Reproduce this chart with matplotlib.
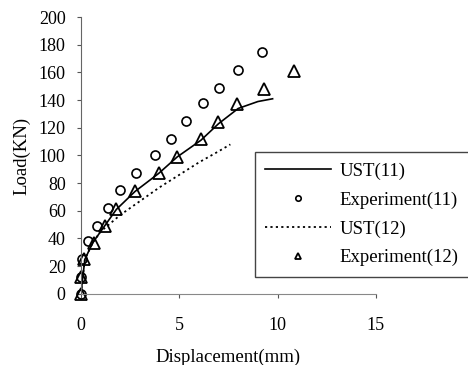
import matplotlib
matplotlib.use("Agg")
import matplotlib.pyplot as plt

plt.rcParams['font.family'] = ['Liberation Serif', 'DejaVu Serif']

# UST(11) calculated curve
ust11_x = [0, 0.1, 0.2, 0.6, 1.2, 1.8, 2.75, 3.95, 4.9, 6.1, 7.0, 8.0, 9.0, 9.75]
ust11_y = [0, 13, 25, 37, 49, 61, 74, 87, 99, 111, 123, 134, 139, 141]

# Experiment(11)
exp11_x = [0, 0, 0.05, 0.35, 0.8, 1.4, 2.0, 2.8, 3.75, 4.6, 5.35, 6.2, 7.0, 8.0, 9.2]
exp11_y = [0, 12, 25, 38, 49, 62, 75, 87, 100, 112, 125, 138, 149, 162, 175]

# UST(12) calculated curve
ust12_x = [0, 0.1, 0.2, 0.6, 1.0, 2.0, 3.0, 4.0, 5.0, 6.0, 7.0, 7.6]
ust12_y = [0, 13, 25, 37, 45, 57, 67, 77, 86, 95, 103, 108]

# Experiment(12)
exp12_x = [0, 0, 0.15, 0.65, 1.2, 1.8, 2.75, 3.95, 4.9, 6.1, 6.95, 7.95, 9.3, 10.85]
exp12_y = [0, 12, 25, 37, 49, 61, 74, 87, 99, 112, 124, 137, 148, 161]

fig = plt.figure(figsize=(4.68, 3.65), dpi=100)
ax = fig.add_axes([0.173, 0.195, 0.63, 0.758])

ax.plot(ust11_x, ust11_y, color='black', lw=1.2, label='UST(11)')
ax.plot(exp11_x, exp11_y, 'o', mfc='none', mec='black', ms=6.5, mew=1.2,
        clip_on=False, label='Experiment(11)')
ax.plot(ust12_x, ust12_y, color='black', lw=1.3, ls=(0, (1.2, 1.8)), label='UST(12)')
ax.plot(exp12_x, exp12_y, '^', mfc='none', mec='black', ms=8, mew=1.3,
        clip_on=False, label='Experiment(12)')

ax.set_xlim(0, 15)
ax.set_ylim(0, 200)
ax.set_xticks([0, 5, 10, 15])
ax.set_yticks(range(0, 201, 20))
for s in ['top', 'right']:
    ax.spines[s].set_visible(False)
ax.spines['left'].set_color('#666666')
ax.spines['bottom'].set_color('#888888')
ax.tick_params(direction='out', length=3, width=0.8, colors='#555555',
               labelcolor='black', labelsize=13)
ax.tick_params(axis='x', pad=14)
ax.tick_params(axis='y', pad=8)

ax.set_xlabel('Displacement(mm)', fontsize=13.5, labelpad=10)
ax.set_ylabel('Load(KN)', fontsize=13.5, labelpad=6)

leg = fig.legend(loc='upper left', bbox_to_anchor=(255 / 468, 1 - 152 / 365),
                 fontsize=13.5, frameon=True, fancybox=False, framealpha=1,
                 edgecolor='#444444', handlelength=3.5, handletextpad=0.45,
                 borderpad=0.55, labelspacing=0.62, markerscale=0.6,
                 borderaxespad=0)
leg.get_frame().set_linewidth(1.0)

fig.savefig('out.png', dpi=100)
